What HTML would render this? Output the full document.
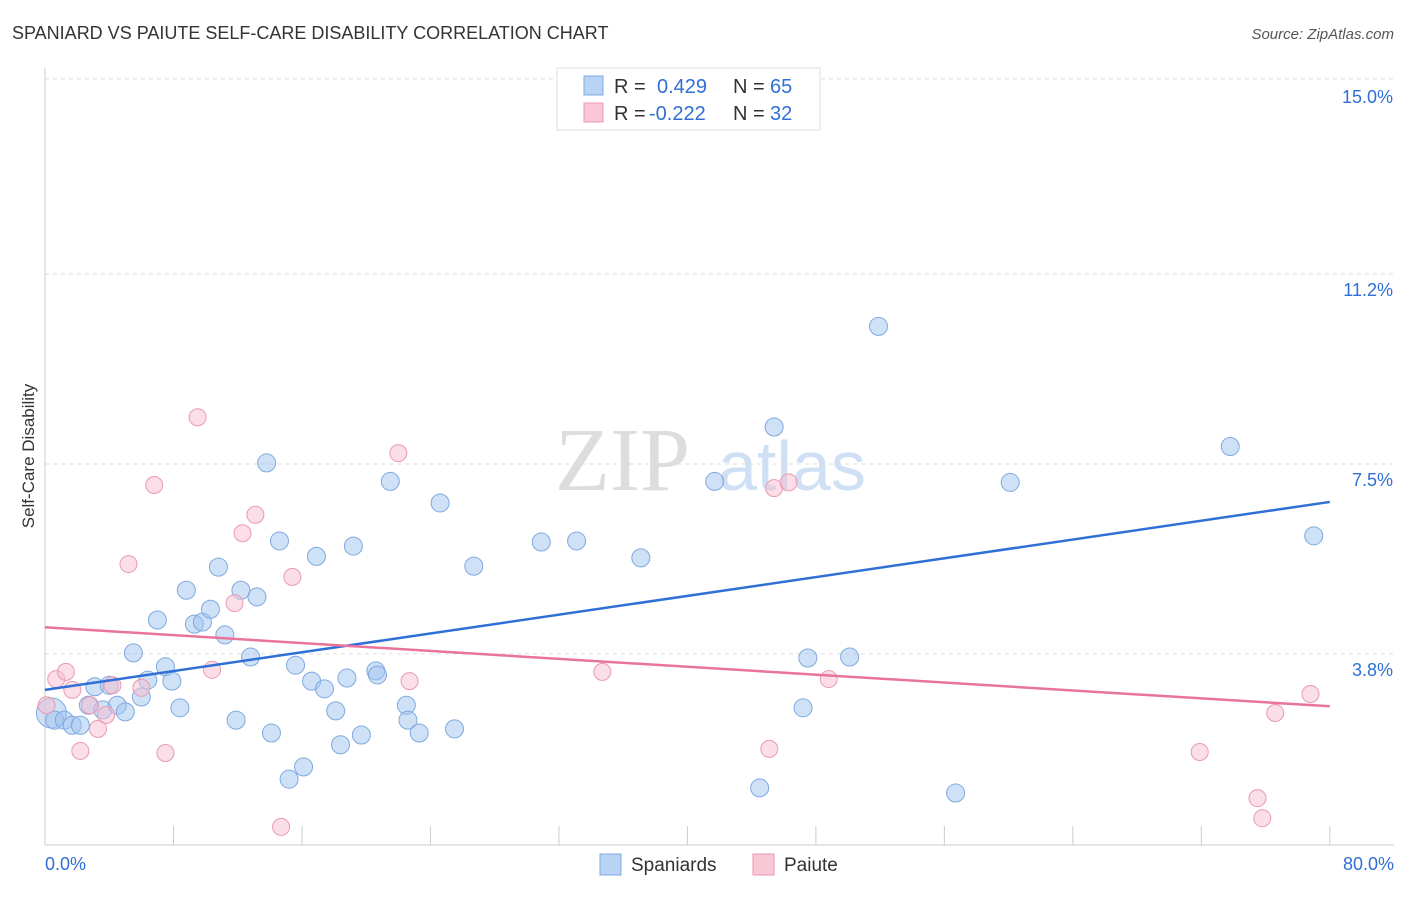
<!DOCTYPE html>
<html><head><meta charset="utf-8"><style>
body{margin:0;background:#fff;font-family:"Liberation Sans",sans-serif;}
</style></head><body>
<svg id="chart" width="1406" height="892">
<text x="12" y="39" font-size="18" fill="#333">SPANIARD VS PAIUTE SELF-CARE DISABILITY CORRELATION CHART</text>
<text x="1394" y="39" font-size="15" fill="#555" font-style="italic" text-anchor="end">Source: ZipAtlas.com</text>
<text x="555" y="490" font-size="90" fill="#ddd" font-family="Liberation Serif">ZIP</text>
<text x="718" y="490" font-size="70" fill="#cfe0f5">atlas</text>
<g id="grid"></g><g id="axes"></g><g id="marks"></g>
<text transform="translate(34,456) rotate(-90)" font-size="17" fill="#333" text-anchor="middle">Self-Care Disability</text>
<g>
<rect x="557" y="68" width="263" height="62" fill="#fff" stroke="#ddd"/>
<rect x="584" y="76" width="19" height="19" fill="#b9d3f5" stroke="#7fa9e0"/>
<rect x="584" y="103" width="19" height="19" fill="#f9c7d6" stroke="#e99ab2"/>
<text x="614" y="93" font-size="20" fill="#333">R =</text>
<text x="657" y="93" font-size="20" fill="#2f6fd6">0.429</text>
<text x="733" y="93" font-size="20" fill="#333">N =</text>
<text x="770" y="93" font-size="20" fill="#2f6fd6">65</text>
<text x="614" y="120" font-size="20" fill="#333">R =</text>
<text x="649" y="120" font-size="20" fill="#2f6fd6">-0.222</text>
<text x="733" y="120" font-size="20" fill="#333">N =</text>
<text x="770" y="120" font-size="20" fill="#2f6fd6">32</text>
</g>
<g>
<rect x="600" y="854" width="21" height="21" fill="#b9d3f5" stroke="#7fa9e0"/>
<text x="631" y="871" font-size="19" fill="#333">Spaniards</text>
<rect x="753" y="854" width="21" height="21" fill="#f9c7d6" stroke="#e99ab2"/>
<text x="784" y="871" font-size="19" fill="#333">Paiute</text>
</g>
</svg>
<script>
const yTicks=[3.8,7.5,11.2,15.0];
const yTickLabels=["3.8%","7.5%","11.2%","15.0%"];
const xTicks=[0,8,16,24,32,40,48,56,64,72,80];
const blueX=[0.4,0.6,1.2,1.7,2.2,2.7,3.1,3.6,4.0,4.5,5.0,5.5,6.0,6.4,7.0,7.5,7.9,8.4,8.8,9.3,9.8,10.3,10.8,11.2,11.9,12.2,12.8,13.2,13.8,14.1,14.6,15.2,15.6,16.1,16.6,16.9,17.4,18.1,18.4,18.8,19.2,19.7,20.6,20.7,21.5,22.5,22.6,23.3,24.6,25.5,26.7,30.9,33.1,37.1,41.7,44.5,45.4,47.2,47.5,50.1,51.9,56.7,60.1,73.8,79.0];
const blueY=[2.65,2.51,2.51,2.41,2.41,2.80,3.16,2.71,3.19,2.80,2.67,3.82,2.96,3.29,4.46,3.55,3.27,2.75,5.04,4.38,4.42,4.67,5.49,4.17,2.51,5.04,3.74,4.91,7.52,2.26,6.00,1.36,3.58,1.60,3.27,5.70,3.12,2.69,2.03,3.33,5.90,2.22,3.47,3.39,7.16,2.80,2.51,2.26,6.74,2.34,5.51,5.98,6.00,5.67,7.16,1.19,8.22,2.75,3.72,3.74,10.18,1.09,7.14,7.84,6.10];
const blueR=[15,9,9,9,9,9,9,9,9,9,9,9,9,9,9,9,9,9,9,9,9,9,9,9,9,9,9,9,9,9,9,9,9,9,9,9,9,9,9,9,9,9,9,9,9,9,9,9,9,9,9,9,9,9,9,9,9,9,9,9,9,9,9,9,9];
const pinkX=[0.1,0.7,1.3,1.7,2.2,2.8,3.3,3.8,4.2,5.2,6.0,6.8,7.5,9.5,10.4,11.8,12.3,13.1,14.7,15.4,22.0,22.7,34.7,45.1,45.4,46.3,48.8,71.9,75.5,75.8,76.6,78.8];
const pinkY=[2.80,3.31,3.45,3.10,1.91,2.80,2.34,2.61,3.19,5.55,3.14,7.09,1.87,8.41,3.49,4.79,6.15,6.51,0.43,5.30,7.71,3.27,3.45,1.95,7.03,7.14,3.31,1.89,0.99,0.60,2.65,3.02];
const blueLine=[[0,3.10],[80,6.76]];
const pinkLine=[[0,4.32],[80,2.78]];
const NS="http://www.w3.org/2000/svg";
const xs=v=>45+v*16.06, ys=v=>849-v*51.34;
function mk(t,a,p){const e=document.createElementNS(NS,t);for(const k in a)e.setAttribute(k,a[k]);document.getElementById(p).appendChild(e);return e;}
yTicks.forEach((t,i)=>{
 const l=mk('line',{x1:45,x2:1394,y1:ys(t),y2:ys(t),stroke:'#ddd','stroke-dasharray':'4,4'},'grid');
 
 
 const tx=mk('text',{x:1393,y:ys(t)+24,'font-size':18,fill:'#2f6fd6','text-anchor':'end'},'axes');tx.textContent=yTickLabels[i];
 if(i<3)tx.setAttribute('y',ys(t)+22);
 
 
});
const ax=mk('line',{x1:45,x2:45,y1:68,y2:845,stroke:'#ccc'},'axes');


const bx=mk('line',{x1:45,x2:1394,y1:845,y2:845,stroke:'#ccc'},'axes');


xTicks.forEach(t=>{const l=mk('line',{x1:xs(t),x2:xs(t),y1:826,y2:845,stroke:'#ccc'},'axes');
 
 });
let t0=mk('text',{x:45,y:870,'font-size':18,fill:'#2f6fd6'},'axes');t0.textContent='0.0%';


let t1=mk('text',{x:1394,y:870,'font-size':18,fill:'#2f6fd6','text-anchor':'end'},'axes');t1.textContent='80.0%';


blueX.forEach((x,i)=>{const c=mk('circle',{cx:xs(x),cy:ys(blueY[i]),r:blueR[i],fill:'rgba(160,195,240,0.5)',stroke:'#7fa9e0','stroke-width':1},'marks');
 
 });
pinkX.forEach((x,i)=>{const c=mk('circle',{cx:xs(x),cy:ys(pinkY[i]),r:8.5,fill:'rgba(248,190,208,0.5)',stroke:'#e99ab2','stroke-width':1},'marks');
 
 });
const bl=mk('line',{x1:xs(blueLine[0][0]),y1:ys(blueLine[0][1]),x2:xs(blueLine[1][0]),y2:ys(blueLine[1][1]),stroke:'#2f6fd6','stroke-width':2.5},'marks');


const pl=mk('line',{x1:xs(pinkLine[0][0]),y1:ys(pinkLine[0][1]),x2:xs(pinkLine[1][0]),y2:ys(pinkLine[1][1]),stroke:'#e8739b','stroke-width':2.5},'marks');


</script>
</body></html>
